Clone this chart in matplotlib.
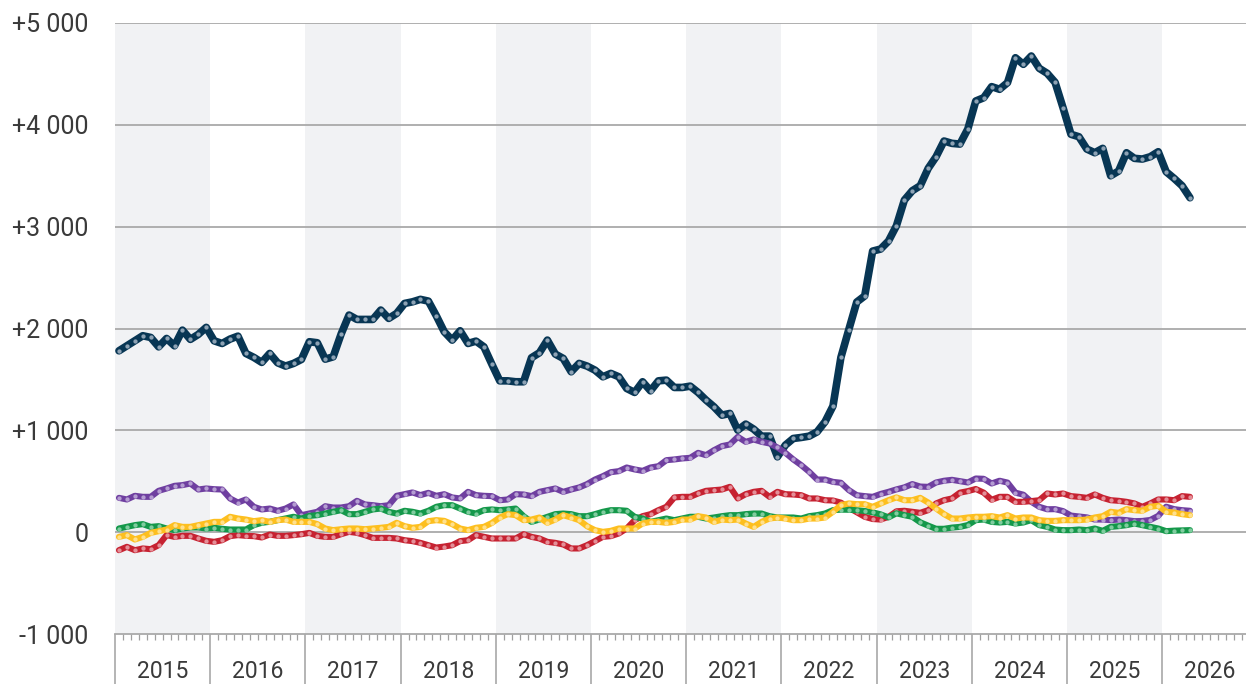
import numpy as np
import matplotlib
matplotlib.use('Agg')
import matplotlib.pyplot as plt
from matplotlib.transforms import blended_transform_factory

plt.rcParams['font.family'] = ['Roboto', 'DejaVu Sans']

# ---------------- data (monthly, Jan 2015 .. Apr 2026) ----------------
start_year = 2015
years = list(range(2015, 2027))
year_labels = [str(y) for y in years]
y_ticks = [-1000, 0, 1000, 2000, 3000, 4000, 5000]
y_tick_labels = ['-1 000', '0', '+1 000', '+2 000', '+3 000', '+4 000', '+5 000']

navy = [
    1781, 1830, 1879, 1929, 1912, 1820, 1902, 1830, 1984, 1893, 1942, 2011,
    1879, 1853, 1896, 1925, 1755, 1716, 1667, 1755, 1663, 1631, 1657, 1696,
    1870, 1860, 1699, 1722, 1945, 2132, 2089, 2089, 2089, 2181, 2099, 2148,
    2246, 2262, 2286, 2269, 2125, 1968, 1886, 1978, 1853, 1876, 1820, 1650,
    1486, 1486, 1477, 1477, 1713, 1762, 1886, 1749, 1706, 1575, 1657, 1631,
    1591, 1526, 1559, 1526, 1411, 1372, 1477, 1388, 1486, 1493, 1421, 1421,
    1434, 1372, 1297, 1231, 1149, 1166, 1002, 1061, 1012, 943, 943, 740,
    855, 920, 930, 943, 985, 1084, 1238, 1716, 1990, 2260, 2320, 2760,
    2780, 2859, 3009, 3261, 3353, 3402, 3572, 3687, 3841, 3818, 3811, 3959,
    4234, 4266, 4375, 4349, 4414, 4659, 4594, 4676, 4555, 4506, 4417, 4168,
    3907, 3883, 3762, 3726, 3769, 3500, 3546, 3726, 3671, 3664, 3687, 3736,
    3539, 3474, 3402, 3284,
]

purple = [
    337, 321, 357, 347, 347, 406, 429, 455, 462, 478, 419, 429,
    422, 419, 331, 291, 321, 249, 223, 232, 210, 232, 272, 167,
    183, 200, 255, 242, 242, 255, 308, 272, 265, 255, 265, 357,
    373, 390, 364, 386, 357, 373, 341, 331, 396, 364, 357, 354,
    314, 321, 373, 370, 354, 396, 413, 429, 396, 419, 439, 472,
    517, 550, 589, 599, 635, 616, 602, 635, 648, 707, 714, 724,
    730, 779, 756, 805, 845, 861, 936, 887, 910, 887, 871, 832,
    779, 714, 658, 593, 517, 517, 494, 485, 413, 363, 354, 347,
    375, 396, 420, 440, 472, 448, 445, 488, 505, 514, 501, 488,
    527, 524, 478, 505, 487, 388, 368, 298, 249, 225, 226, 207,
    163, 154, 145, 124, 124, 118, 124, 118, 108, 110, 120, 160,
    250, 226, 216, 210,
]

red = [
    -177, -144, -177, -160, -167, -128, -29, -46, -36, -36, -62, -85,
    -95, -79, -39, -29, -36, -39, -52, -23, -36, -36, -29, -20,
    -7, -36, -46, -46, -20, 3, -7, -29, -56, -56, -56, -62,
    -79, -88, -105, -128, -151, -141, -128, -88, -79, -29, -46, -62,
    -62, -62, -62, -20, -46, -62, -95, -105, -121, -160, -160, -128,
    -88, -46, -39, -13, 36, 118, 157, 177, 216, 249, 341, 347,
    347, 380, 406, 413, 419, 445, 331, 373, 396, 406, 347, 396,
    373, 370, 363, 331, 331, 314, 311, 290, 240, 195, 151, 129,
    124, 150, 205, 210, 200, 190, 216, 282, 314, 331, 388, 403,
    424, 388, 318, 347, 347, 298, 298, 305, 314, 380, 370, 380,
    354, 347, 337, 370, 337, 314, 308, 298, 282, 249, 282, 321,
    321, 314, 354, 347,
]

green = [
    36, 52, 69, 79, 52, 59, 36, 20, 36, 46, 46, 36,
    43, 33, 26, 26, 26, 69, 92, 102, 118, 134, 151, 134,
    160, 167, 183, 200, 216, 177, 177, 200, 223, 232, 200, 183,
    210, 200, 183, 210, 249, 265, 265, 232, 200, 183, 216, 223,
    216, 223, 232, 157, 101, 124, 151, 177, 183, 177, 157, 157,
    177, 200, 216, 216, 210, 151, 134, 101, 118, 134, 118, 134,
    151, 151, 134, 144, 157, 167, 167, 177, 183, 183, 157, 144,
    144, 144, 134, 157, 167, 183, 216, 221, 220, 216, 208, 195,
    175, 145, 185, 167, 151, 97, 64, 33, 33, 45, 52, 70,
    118, 124, 101, 95, 101, 85, 95, 118, 69, 52, 26, 20,
    20, 26, 20, 36, 13, 52, 59, 69, 85, 69, 52, 36,
    10, 15, 18, 20,
]

yellow = [
    -46, -29, -72, -46, -7, 10, 26, 69, 52, 52, 69, 85,
    101, 101, 151, 134, 124, 108, 118, 101, 118, 124, 101, 101,
    101, 79, 36, 20, 29, 36, 36, 29, 36, 43, 52, 92,
    59, 43, 52, 108, 118, 111, 79, 36, 20, 43, 52, 90,
    144, 177, 167, 118, 124, 144, 92, 124, 167, 144, 118, 59,
    20, 3, 13, 36, 36, 36, 85, 101, 101, 92, 101, 124,
    124, 157, 144, 101, 124, 118, 124, 85, 52, 101, 134, 144,
    134, 118, 118, 134, 134, 144, 200, 265, 282, 275, 275, 249,
    282, 314, 341, 314, 314, 337, 291, 232, 177, 134, 134, 144,
    151, 151, 157, 144, 167, 134, 144, 144, 118, 111, 111, 118,
    118, 118, 124, 144, 157, 200, 190, 226, 216, 210, 249, 259,
    200, 193, 177, 167,
]

# ---------------- figure ----------------
W, H = 1246, 684
fig = plt.figure(figsize=(W / 100, H / 100), dpi=100)
ax = fig.add_axes([115 / W, 50 / H, 1131 / W, 611 / H])

x_right = start_year + 1131 / 95.2
ax.set_xlim(start_year, x_right)
ax.set_ylim(-1000, 5000)

# alternating year shading
for i, yr in enumerate(years):
    if i % 2 == 0:
        ax.axvspan(yr, yr + 1, color='#f1f2f4', lw=0, zorder=0)

# horizontal grid
grid_col = '#a9a9a9'
for v in y_ticks[1:]:
    ax.axhline(v, color=grid_col, lw=1.3, zorder=1)

series = [
    (navy, '#083654', '#8da2b4', 5.5),
    (purple, '#6f3fa0', '#b59dd2', 4.4),
    (red, '#c62231', '#e48f98', 4.4),
    (green, '#14984a', '#80cc9f', 4.4),
    (yellow, '#fdbf1f', '#ffe08c', 4.4),
]

n = len(navy)
x = start_year + (np.arange(n) + 0.5) / 12.0
for k, (vals, col, mcol, lw) in enumerate(series):
    ax.plot(x, vals, color=col, lw=lw, solid_joinstyle='round',
            solid_capstyle='round', marker='o', markersize=3.1,
            markerfacecolor=mcol, markeredgewidth=0, zorder=3 + k)

# spines
for s in ['top', 'right', 'left']:
    ax.spines[s].set_visible(False)
ax.spines['bottom'].set_color(grid_col)
ax.spines['bottom'].set_linewidth(1.3)

# y ticks
ax.set_yticks(y_ticks)
ax.set_yticklabels(y_tick_labels)
ax.tick_params(axis='y', length=0, pad=19, labelsize=18, labelcolor='#3a3a3a')

# x ticks: years (long) and months (short)
ax.set_xticks(years + [2027])
ax.set_xticklabels([])
months = start_year + np.arange(0, 12 * 12 + 1) / 12.0
ax.set_xticks(months, minor=True)
ax.tick_params(axis='x', which='major', length=36, width=1.1, color='#a0a0a0',
               direction='out')
ax.tick_params(axis='x', which='minor', length=4.5, width=0.9, color='#a0a0a0',
               direction='out')
ax.set_xlim(start_year, x_right)

trans = blended_transform_factory(ax.transData, fig.transFigure)
for yr, lab in zip(years, year_labels):
    ax.text(yr + 0.5, (H - 671) / H, lab, transform=trans, ha='center',
            va='center', fontsize=16.5, color='#3a3a3a')

fig.savefig('out.png', dpi=100)
